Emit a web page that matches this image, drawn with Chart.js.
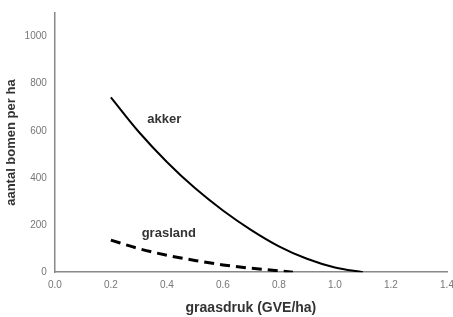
<!DOCTYPE html>
<html>
<head>
<meta charset="utf-8">
<script src="https://cdn.jsdelivr.net/npm/chart.js@4"></script>
<style>
  html, body { margin: 0; padding: 0; background: #fff; }
  #wrap { width: 453px; height: 317px; }
</style>
</head>
<body>
<div id="wrap"><canvas id="chart" width="453" height="317"></canvas></div>
<script>
// graasdruk (GVE/ha) en aantal bomen per ha
var akkerX = [0.2, 0.3, 0.4, 0.5, 0.6, 0.7, 0.8, 0.9, 1.0, 1.1];
var akkerY = [742, 595, 468, 357, 262, 180, 110, 57, 20, 0];
var graslandX = [0.2, 0.3, 0.4, 0.5, 0.6, 0.7, 0.8, 0.85];
var graslandY = [136, 100, 72, 50, 31, 17, 6, 0];
var xTicks = [0, 0.2, 0.4, 0.6, 0.8, 1.0, 1.2, 1.4];
var yTicks = [0, 200, 400, 600, 800, 1000];

var FONT = '"Liberation Sans", Arial, sans-serif';

function pts(xs, ys) {
    var out = [];
    for (let i = 0; i < xs.length; i++) out.push({x: xs[i], y: ys[i]});
    return out;
}

// tekst "akker" en "grasland" in de grafiek
var seriesLabels = {
    id: 'seriesLabels',
    afterDatasetsDraw: function (chart) {
        var ctx = chart.ctx;
        var xs = chart.scales.x, ys = chart.scales.y;
        ctx.save();
        ctx.fillStyle = '#333';
        ctx.font = 'bold 13px ' + FONT;
        ctx.textBaseline = 'middle';
        ctx.fillText('akker', xs.getPixelForValue(0.33), ys.getPixelForValue(648));
        ctx.fillText('grasland', xs.getPixelForValue(0.31), ys.getPixelForValue(166));
        ctx.restore();
    }
};

var ctx1 = document.getElementById('chart').getContext('2d');
var myChart = new Chart(ctx1, {
    type: 'scatter',
    data: {
        datasets: [{
                label: 'akker',
                data: pts(akkerX, akkerY),
                showLine: true,
                borderColor: '#000',
                borderWidth: 2,
                pointRadius: 0,
                cubicInterpolationMode: 'monotone'
            },
            {
                label: 'grasland',
                data: pts(graslandX, graslandY),
                showLine: true,
                borderColor: '#000',
                borderWidth: 3,
                borderDash: [10, 6],
                pointRadius: 0,
                cubicInterpolationMode: 'monotone'
            }
        ]
    },
    options: {
        responsive: false,
        animation: false,
        layout: { padding: { top: 13, right: 0, left: 4, bottom: 0 } },
        plugins: {
            legend: { display: false },
            tooltip: { enabled: false }
        },
        scales: {
            x: {
                type: 'linear',
                min: 0, max: 1.4,
                afterBuildTicks: function (axis) {
                    axis.ticks = xTicks.map(function (v) { return {value: v}; });
                },
                afterFit: function (axis) {
                    axis.paddingRight = 6;
                },
                grid: { display: false, drawTicks: true, tickLength: 4, tickColor: '#888' },
                border: { color: '#888', width: 1.5 },
                ticks: {
                    color: '#777',
                    font: { size: 10, family: FONT },
                    padding: 3,
                    maxRotation: 0,
                    callback: function (v) { return v.toFixed(1); }
                },
                title: {
                    display: true,
                    text: 'graasdruk (GVE/ha)',
                    color: '#333',
                    font: { size: 14, weight: 'bold', family: FONT },
                    padding: { top: 6, bottom: 0 }
                }
            },
            y: {
                min: 0, max: 1100,
                afterBuildTicks: function (axis) {
                    axis.ticks = yTicks.map(function (v) { return {value: v}; });
                },
                grid: { display: false, drawTicks: true, tickLength: 4, tickColor: '#888' },
                border: { color: '#888', width: 1.5 },
                ticks: {
                    color: '#777',
                    font: { size: 10, family: FONT },
                    padding: 4,
                    callback: function (v) { return String(v); }
                },
                title: {
                    display: true,
                    text: 'aantal bomen per ha',
                    color: '#333',
                    font: { size: 13, weight: 'bold', family: FONT },
                    padding: { top: 0, bottom: 1 }
                }
            }
        }
    },
    plugins: [seriesLabels]
});
</script>
</body>
</html>
